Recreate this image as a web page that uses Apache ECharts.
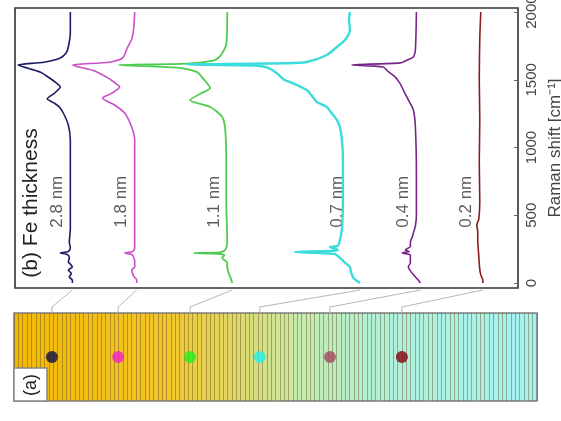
<!DOCTYPE html>
<html>
<head>
<meta charset="utf-8">
<script src="https://cdn.jsdelivr.net/npm/echarts@6/dist/echarts.min.js"></script>
<style>
  html, body { margin: 0; padding: 0; background: #fff; }
  #chart { width: 561px; height: 421px; }
</style>
</head>
<body>
<div id="chart"></div>
<script>
// Fe thickness of each spectrum, with its vertical offset (stacking) in intensity units
const thickness = ['2.8 nm', '1.8 nm', '1.1 nm', '0.7 nm', '0.4 nm', '0.2 nm'];
const offsets = [44.5, 38.1, 28.9, 16.7, 10.1, 3.8];

// spectra: [Raman shift (cm-1), relative intensity]
const spec28 = [[0,-0.2],[22,-0.2],[44,0.1],[70,-0.1],[96,0.2],[118,-0.2],[140,0],[155,0.2],[185,0.1],[210,0.3],[221,1.0],[232,0.2],[260,0],[300,0.1],[400,0],[600,0],[800,0],[1055,0],[1166,0.2],[1255,0.7],[1300,1.1],[1328,1.6],[1360,2.3],[1400,1.6],[1446,1.0],[1483,1.5],[1530,2.4],[1557,3.0],[1585,4.2],[1609,5.2],[1630,2.6],[1661,1.0],[1700,0.4],[1742,0.2],[1845,0],[2000,0]];
const spec18 = [[0,-0.2],[22,-0.2],[50,0.1],[96,0.3],[118,0],[155,0],[190,0.1],[210,0.3],[221,1.0],[232,0.2],[260,0],[300,0],[600,0],[1055,0],[1151,0.3],[1255,1.0],[1314,2.0],[1365,3.2],[1400,2.3],[1446,1.5],[1480,2.0],[1520,2.8],[1570,4.2],[1609,6.2],[1630,2.5],[1661,1.2],[1742,0.7],[1800,0.3],[1880,0.1],[2000,0]];
const spec11 = [[0,-0.5],[22,-0.4],[44,-0.3],[80,-0.1],[118,0],[150,0],[185,0.5],[205,0.3],[216,1.0],[221,3.3],[226,0.8],[244,0.2],[300,0],[600,0.1],[900,0.1],[1129,0.2],[1225,0.5],[1299,1.7],[1351,3.7],[1400,2.6],[1439,1.7],[1500,2.3],[1557,3.0],[1590,5.0],[1609,10.8],[1620,4.0],[1640,1.5],[1661,0.9],[1697,0.5],[1760,0.1],[2000,0]];
const spec07 = [[0,-1.0],[20,-0.6],[44,-0.3],[80,-0.1],[118,0],[150,0.5],[185,1.0],[205,1.3],[214,1.5],[222,3.5],[229,5.5],[236,2.0],[244,1.2],[255,1.6],[266,2.0],[275,1.2],[317,1.0],[400,0.8],[600,0.7],[908,0.7],[1055,0.8],[1150,1.0],[1203,1.3],[1260,1.9],[1299,2.3],[1336,3.3],[1373,3.7],[1424,4.3],[1476,5.7],[1498,6.5],[1550,7.3],[1590,8.2],[1605,9.5],[1614,16.2],[1622,6.5],[1631,4.3],[1683,2.3],[1742,1.3],[1793,0.5],[1867,0],[1941,0.1],[2000,0]];
const spec04 = [[0,-0.4],[20,-0.2],[44,0.1],[80,0.5],[118,0.8],[150,0.6],[190,0.6],[207,0.6],[222,1.4],[232,0.7],[244,1.1],[270,0.6],[303,0.6],[340,0.4],[369,0.3],[420,0.1],[500,0],[800,0],[1151,0.1],[1277,0.3],[1351,0.8],[1424,1.3],[1470,1.6],[1520,2.1],[1560,2.8],[1594,3.3],[1610,6.4],[1625,1.6],[1650,0.8],[1668,0.3],[1720,0.1],[2000,0]];
const spec02 = [[0,-0.3],[22,-0.3],[60,-0.1],[100,0],[200,0.1],[317,0.2],[380,0.2],[428,0.3],[470,0.1],[600,0],[900,0.05],[1200,0],[1500,0.05],[1800,0],[2000,-0.1]];
const spectra = [spec28, spec18, spec11, spec07, spec04, spec02];

// measurement spots along the wedge sample in panel (a)
const dotPositions = [8.7, 23.9, 40.4, 56.4, 72.5, 89.0];
const shiftTicks = [0, 500, 1000, 1500, 2000];

const lineColors = ['#1c1c66', '#c94fc9', '#4fcc4f', '#3ddcdc', '#762587', '#8a1c1c'];
const lineWidths = [1.6, 1.6, 1.8, 2.4, 1.6, 1.6];
const dotColors = ['#0e0e4a', '#f21fd0', '#1ff01f', '#22f0f0', '#a24a5c', '#86000e'];
const font = 'Liberation Sans';

const chart = echarts.init(document.getElementById('chart'));

const series = spectra.map((spec, i) => ({
  type: 'line',
  xAxisIndex: 0,
  yAxisIndex: 0,
  showSymbol: false,
  smooth: 0.25,
  silent: true,
  lineStyle: { color: lineColors[i], width: lineWidths[i] },
  data: spec.map(([s, v]) => [offsets[i] + v, s])
}));

// thickness labels next to each spectrum
series.push({
  type: 'scatter',
  xAxisIndex: 0,
  yAxisIndex: 0,
  symbolSize: 0,
  silent: true,
  label: {
    show: true,
    position: 'inside',
    rotate: 90,
    formatter: '{b}',
    fontFamily: font,
    fontSize: 17,
    color: '#333'
  },
  data: thickness.map((t, i) => ({ name: t, value: [offsets[i] + 1.3, 600] }))
});

// spots on the sample
series.push({
  type: 'scatter',
  xAxisIndex: 1,
  yAxisIndex: 1,
  symbolSize: 12,
  silent: true,
  data: dotPositions.map((p, i) => ({ value: [p, 0.5], itemStyle: { color: dotColors[i] } }))
});

chart.setOption({
  animation: false,
  backgroundColor: '#fff',
  grid: [
    {
      left: 15, right: 43, top: 8, bottom: 133, containLabel: false, outerBoundsMode: 'none',
      show: true, borderColor: '#333', borderWidth: 1.6, backgroundColor: '#fff'
    },
    {
      left: 14, right: 24, top: 313, bottom: 20, containLabel: false, outerBoundsMode: 'none',
      show: true, borderColor: '#7d7d7d', borderWidth: 1.5,
      backgroundColor: new echarts.graphic.LinearGradient(0, 0, 1, 0, [
        { offset: 0, color: '#f4b800' },
        { offset: 0.3, color: '#f1c72c' },
        { offset: 0.42, color: '#dfd866' },
        { offset: 0.55, color: '#c4ecb0' },
        { offset: 0.7, color: '#b0f0d8' },
        { offset: 1, color: '#a4f4f4' }
      ])
    }
  ],
  xAxis: [
    { gridIndex: 0, type: 'value', min: 0, max: 50, inverse: true, show: false },
    {
      gridIndex: 1, type: 'value', min: 0, max: 120, interval: 1,
      axisLine: { show: false }, axisTick: { show: false }, axisLabel: { show: false },
      splitLine: { show: true, lineStyle: { color: 'rgba(105,80,35,0.45)', width: 1 } }
    }
  ],
  yAxis: [
    {
      gridIndex: 0, type: 'value', position: 'right', min: -37, max: 2030,
      name: 'Raman shift [cm\u207B\u00B9]',
      nameLocation: 'middle', nameRotate: 90, nameGap: 27,
      nameTextStyle: { fontFamily: font, fontSize: 17, color: '#444' },
      axisLine: { show: false },
      axisTick: { show: true, inside: true, length: 4, customValues: shiftTicks, lineStyle: { color: '#666' } },
      axisLabel: {
        show: true, customValues: shiftTicks, rotate: 90, align: 'center', verticalAlign: 'top',
        margin: 6, fontFamily: font, fontSize: 15, color: '#444',
        formatter: v => String(v)
      },
      splitLine: { show: false }
    },
    { gridIndex: 1, type: 'value', min: 0, max: 1, show: false }
  ],
  series: series
});

// panel labels and faint guide lines linking each spot to the foot of its spectrum
const graphics = [
  {
    type: 'text', x: 31, y: 203, rotation: Math.PI / 2, silent: true, z: 100,
    style: { text: '(b) Fe thickness', align: 'center', verticalAlign: 'middle', fontFamily: font, fontSize: 21, fill: '#222' }
  },
  {
    type: 'rect', shape: { x: 14, y: 368, width: 33, height: 33 }, silent: true, z: 100,
    style: { fill: '#fff', stroke: '#888', lineWidth: 1.5 }
  },
  {
    type: 'text', x: 31, y: 385, rotation: Math.PI / 2, silent: true, z: 101,
    style: { text: '(a)', align: 'center', verticalAlign: 'middle', fontFamily: font, fontSize: 18, fill: '#222' }
  }
];
dotPositions.forEach((p, i) => {
  const a = chart.convertToPixel({ gridIndex: 1 }, [p, 1]);
  const b = chart.convertToPixel({ gridIndex: 0 }, [offsets[i] + spectra[i][0][1], -37]);
  graphics.push({
    type: 'polyline', silent: true, z: 100,
    shape: { points: [[a[0], a[1]], [a[0], a[1] - 6], [b[0], b[1] + 2]] },
    style: { stroke: '#bdb2b6', lineWidth: 1, fill: null }
  });
});
chart.setOption({ graphic: graphics });
</script>
</body>
</html>
